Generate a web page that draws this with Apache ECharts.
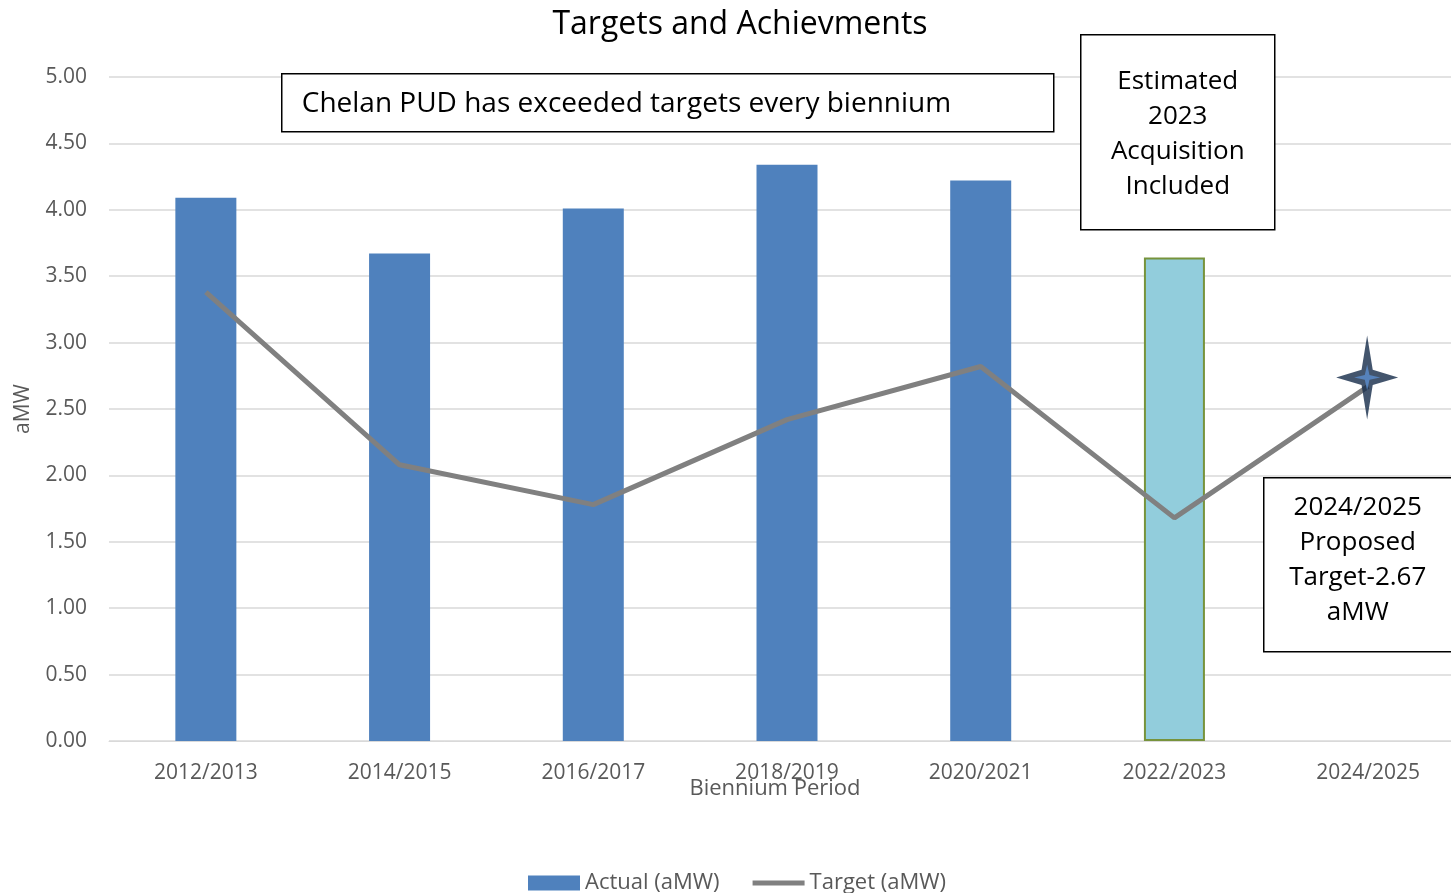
<!DOCTYPE html>
<html><head><meta charset="utf-8">
<script src="https://cdn.jsdelivr.net/npm/echarts@6/dist/echarts.min.js"></script>
<style>html,body{margin:0;padding:0;background:#fff}#c{width:1451px;height:893px}</style>
</head><body><div id="c"></div>
<script>
const categories = ['2012/2013','2014/2015','2016/2017','2018/2019','2020/2021','2022/2023','2024/2025'];
const actual = [4.09, 3.67, 4.01, 4.34, 4.22, 3.64, null];
const target = [3.38, 2.08, 1.78, 2.42, 2.82, 1.68, 2.67];
const proposed = [null, null, null, null, null, null, 2.67];
const yTicks = [0, 0.5, 1, 1.5, 2, 2.5, 3, 3.5, 4, 4.5, 5];

const FONT = '"Open Sans", "Noto Sans", sans-serif';
const chart = echarts.init(document.getElementById('c'));
const starPath = 'path://M50,0 L59,41 L100,50 L59,59 L50,100 L41,59 L0,50 L41,41 Z';

chart.setOption({
  animation: false,
  textStyle: {fontFamily: FONT},
  title: {text: 'Targets and Achievments', left: 735, textAlign: 'center', top: 4,
    textStyle: {fontSize: 32, fontWeight: 'normal', color: '#000', fontFamily: FONT}},
  grid: {left: 109, width: 1356, top: 77, bottom: 152, containLabel: false, outerBoundsMode: 'none'},
  legend: {bottom: -6, left: 523, itemWidth: 52, itemHeight: 15, itemGap: 33,
    textStyle: {fontSize: 22, color: '#595959', fontFamily: FONT},
    data: [{name: 'Actual (aMW)', icon: 'rect'},
           {name: 'Target (aMW)', icon: 'path://M0,0 L52,0 L52,5 L0,5 Z', itemStyle: {color: '#808080'}}]},
  xAxis: {type: 'category', data: categories,
    name: 'Biennium Period', nameLocation: 'middle', nameGap: 37, nameMoveOverlap: false,
    nameTextStyle: {fontSize: 22, color: '#595959', padding: [0, 24, 0, 0]},
    axisLine: {lineStyle: {color: '#d9d9d9', width: 1}}, axisTick: {show: false},
    axisLabel: {fontSize: 21, color: '#595959', margin: 22}},
  yAxis: {type: 'value', min: 0, max: 5, interval: 0.5,
    name: 'aMW', nameLocation: 'middle', nameGap: 75, nameMoveOverlap: false,
    nameTextStyle: {fontSize: 21, color: '#595959'},
    axisLine: {show: false}, axisTick: {show: false},
    axisLabel: {fontSize: 21, color: '#595959', margin: 22,
      formatter: v => yTicks.includes(v) ? v.toFixed(2) : ''},
    splitLine: {lineStyle: {color: '#d9d9d9', width: 1.5}}},
  series: [
    {name: 'Actual (aMW)', type: 'bar', barWidth: 61, itemStyle: {color: '#4f81bd'},
      data: actual.map((v, i) => i === 5 ? {value: v, itemStyle: {color: '#92cddc', borderColor: '#77933c', borderWidth: 2}} : v)},
    {name: 'Target (aMW)', type: 'line', data: target, showSymbol: false, symbol: 'none',
      lineStyle: {color: '#808080', width: 5}, itemStyle: {color: '#808080'}, z: 3},
    {name: 'Proposed', type: 'scatter', data: proposed, symbol: starPath, symbolSize: [62, 84],
      symbolOffset: [-1, -9], itemStyle: {color: '#142a48'}, z: 5},
    {name: 'ProposedCore', type: 'scatter', data: proposed, symbol: starPath, symbolSize: [26, 26],
      symbolOffset: [-1, -9], itemStyle: {color: '#5b8fd0'}, z: 6}
  ],
  graphic: [
    {type: 'group', left: 281, top: 73, z: 100, children: [
      {type: 'rect', z: 100, shape: {x: 0, y: 0, width: 772, height: 58}, style: {fill: '#fff', stroke: '#000', lineWidth: 1.5}},
      {type: 'text', z: 101, x: 20, y: 30, style: {text: 'Chelan PUD has exceeded targets every biennium', fontSize: 28, fontFamily: FONT, fill: '#000', verticalAlign: 'middle'}}
    ]},
    {type: 'group', left: 1080, top: 34, z: 100, children: [
      {type: 'rect', z: 100, shape: {x: 0, y: 0, width: 194, height: 195}, style: {fill: '#fff', stroke: '#000', lineWidth: 1.5}},
      {type: 'text', z: 101, x: 97, y: 99, style: {text: 'Estimated\n2023\nAcquisition\nIncluded', fontSize: 26, lineHeight: 35, fontFamily: FONT, fill: '#000', align: 'center', verticalAlign: 'middle'}}
    ]},
    {type: 'group', left: 1263, top: 477, z: 100, children: [
      {type: 'rect', z: 100, shape: {x: 0, y: 0, width: 188, height: 174}, style: {fill: '#fff', stroke: '#000', lineWidth: 1.5}},
      {type: 'text', z: 101, x: 94, y: 82, style: {text: '2024/2025\nProposed\nTarget-2.67\naMW', fontSize: 26, lineHeight: 35, fontFamily: FONT, fill: '#000', align: 'center', verticalAlign: 'middle'}}
    ]}
  ]
});
</script></body></html>
